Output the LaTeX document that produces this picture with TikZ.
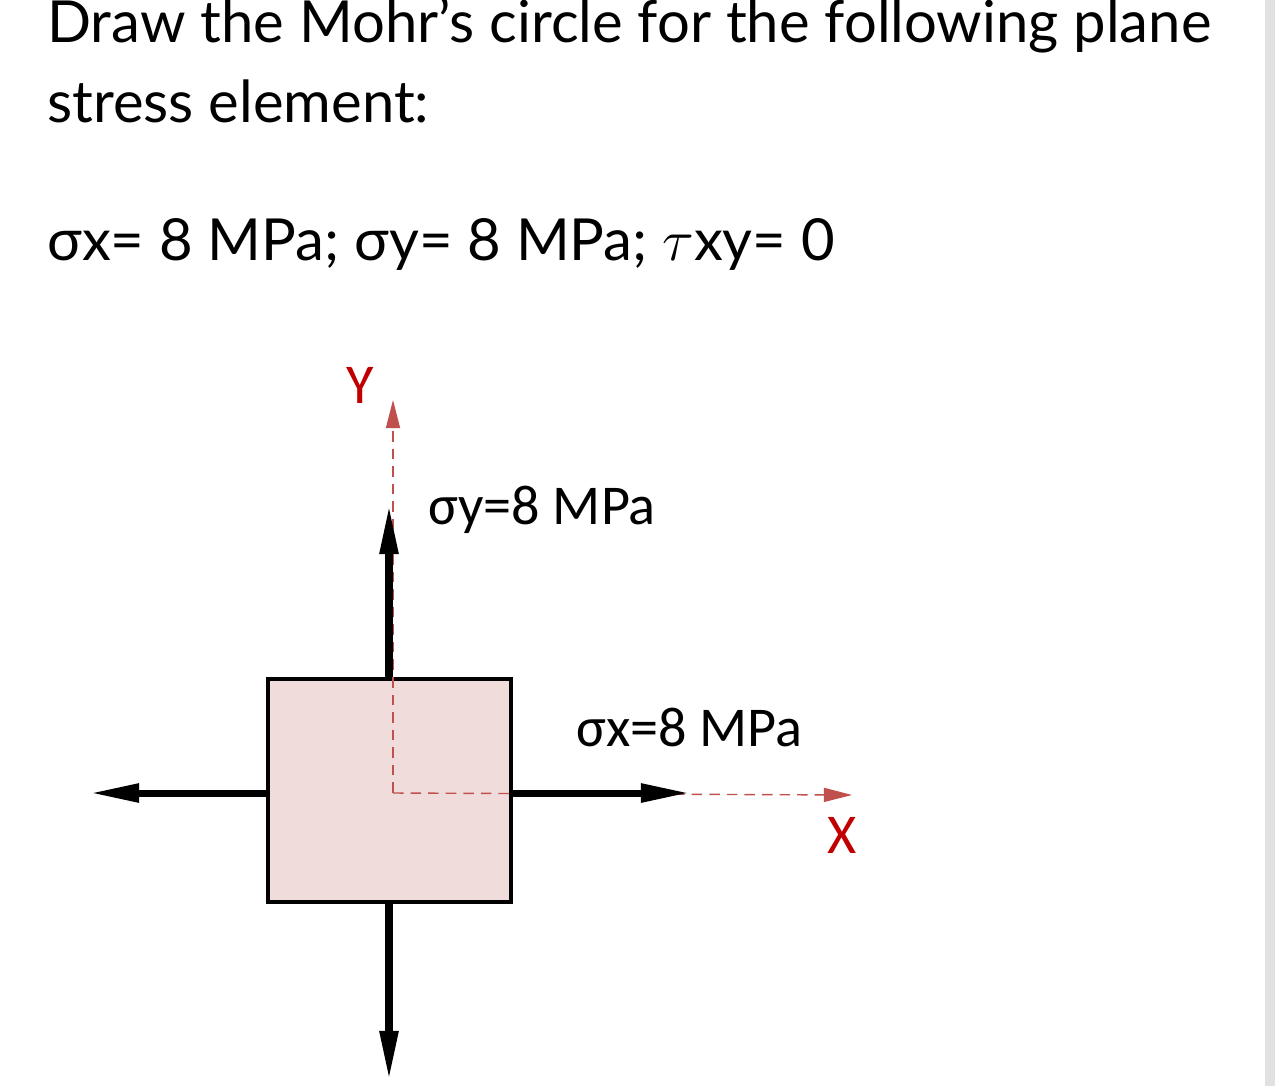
\documentclass[tikz,border=0pt]{standalone}
\usepackage{fontspec}
\setmainfont{Lato}
\newfontfamily\calib{Carlito}
\usetikzlibrary{arrows.meta}
\definecolor{pinkfill}{RGB}{241,220,220}
\definecolor{axred}{RGB}{192,80,77}
\definecolor{lblred}{RGB}{192,0,0}
\definecolor{barg}{RGB}{225,225,225}
\tikzset{
  px/.style={x=0.02cm,y=-0.02cm},
  force/.style={line width=4pt,-{Triangle[length=28pt,width=10pt]}},
  axis/.style={axred,line width=0.8pt,dash pattern=on 6pt off 4pt,-{Triangle[length=16pt,width=8pt]}},
  ttl/.style={anchor=base west,inner sep=0pt,font=\fontsize{33}{38}\selectfont},
  lbl/.style={inner sep=0pt,font=\calib\fontsize{32}{36}\selectfont}
}
\begin{document}
\begin{tikzpicture}[px]
\useasboundingbox (0,0) rectangle (1284,1086);
\fill[barg] (1265,0) rectangle (1275,1086);
\node[ttl] (t1) at (47,42) {Draw the Mohr’s circle for the following plane};
\node[ttl] (t2) at (47,122) {stress element:};
\node[ttl] (t3) at (47,260) {σx= 8 MPa; σy= 8 MPa; \scalebox{1.35}{$\tau$}xy= 0};
\path (389.5,790.5) node[draw=black,line width=2.5pt,fill=pinkfill,minimum width=4.86cm,minimum height=4.46cm] (el) {};
\coordinate (o) at (393,793);
\coordinate (yt) at (393,400);
\coordinate (xt) at (852,795);
\draw[axis] (o) -- (yt);
\draw[axis] (o) -- (xt);
\coordinate (up) at (389,505);
\coordinate (dn) at (389,1080);
\coordinate (lf) at (90,793);
\coordinate (rt) at (690,793);
\draw[force] (el.north -| up) -- (up);
\draw[force] (el.south -| dn) -- (dn);
\draw[force] (el.west |- lf) -- (lf);
\draw[force] (el.east |- rt) -- (rt);
\node[lbl,lblred] (Y) at (360,385) {Y};
\node[lbl,lblred] (X) at (842,835) {X};
\node[lbl,anchor=west] (sy) at (428,510) {σy=8 MPa};
\node[lbl,anchor=west] (sx) at (576,727) {σx=8 MPa};
\end{tikzpicture}
\end{document}
